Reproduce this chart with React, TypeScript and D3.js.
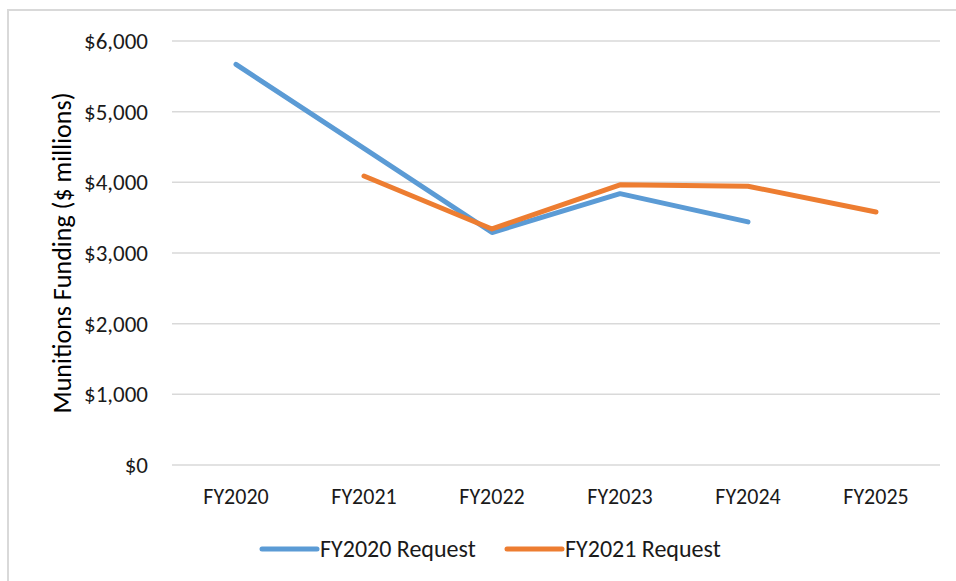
import * as React from 'react'
import * as d3 from 'd3'

const width = 956
const height = 581
const margin = { top: 41, right: 16, bottom: 116, left: 172 }
const blue = '#5b9bd5'
const orange = '#ed7d31'
const font = 'Carlito, Calibri, "Open Sans", sans-serif'

const years = ['FY2020', 'FY2021', 'FY2022', 'FY2023', 'FY2024', 'FY2025']
const fy2020Request = [5670, 4480, 3290, 3840, 3440, null]
const fy2021Request = [null, 4090, 3340, 3965, 3945, 3580]
const yTicks = [0, 1000, 2000, 3000, 4000, 5000, 6000]

const series = [
  { name: 'FY2020 Request', values: fy2020Request, color: blue },
  { name: 'FY2021 Request', values: fy2021Request, color: orange },
]

const App = () => {
  const xScale = d3
    .scalePoint()
    .domain(years)
    .range([margin.left, width - margin.right])
    .padding(0.5)
  const yScale = d3
    .scaleLinear()
    .domain([0, 6000])
    .range([height - margin.bottom, margin.top])

  const line = d3
    .line<number | null>()
    .defined(d => d != null)
    .x((_, i) => xScale(years[i]) as number)
    .y(d => yScale(d as number))

  const fmt = (v: number) => '$' + d3.format(',')(v)

  return (
    <svg
      width={width}
      height={height}
      style={{ position: 'absolute', left: 0, top: 0, background: '#fff' }}
    >
      <rect x={8} y={10} width={width} height={height} fill="#fff" stroke="#d9d9d9" strokeWidth={2} />
      <g>
        {yTicks.map(t => (
          <g key={t}>
            <line
              x1={margin.left}
              x2={width - margin.right}
              y1={yScale(t)}
              y2={yScale(t)}
              stroke="#d9d9d9"
              strokeWidth={1.5}
            />
            <text
              x={margin.left - 24}
              y={yScale(t)}
              dy="0.35em"
              textAnchor="end"
              fontFamily={font}
              fontSize={23}
              fill="#1a1a1a"
            >
              {fmt(t)}
            </text>
          </g>
        ))}
      </g>
      <g>
        {years.map(y => (
          <text
            key={y}
            x={xScale(y)}
            y={height - margin.bottom + 31}
            dy="0.35em"
            textAnchor="middle"
            fontFamily={font}
            fontSize={22}
            fill="#1a1a1a"
          >
            {y}
          </text>
        ))}
      </g>
      <text
        transform={`translate(62, ${(margin.top + height - margin.bottom) / 2}) rotate(-90)`}
        dy="0.35em"
        textAnchor="middle"
        fontFamily={font}
        fontSize={26}
        fill="#000"
      >
        Munitions Funding ($ millions)
      </text>
      {series.map(s => (
        <path
          key={s.name}
          d={line(s.values) || ''}
          fill="none"
          stroke={s.color}
          strokeWidth={5}
          strokeLinecap="round"
          strokeLinejoin="round"
        />
      ))}
      <g>
        {series.map((s, i) => {
          const x0 = 262 + i * 245
          return (
            <g key={s.name}>
              <line x1={x0} x2={x0 + 55} y1={549} y2={549} stroke={s.color} strokeWidth={5} strokeLinecap="round" />
              <text x={x0 + 58} y={549} dy="0.35em" fontFamily={font} fontSize={24} fill="#1a1a1a">
                {s.name}
              </text>
            </g>
          )
        })}
      </g>
    </svg>
  )
}

export default App
